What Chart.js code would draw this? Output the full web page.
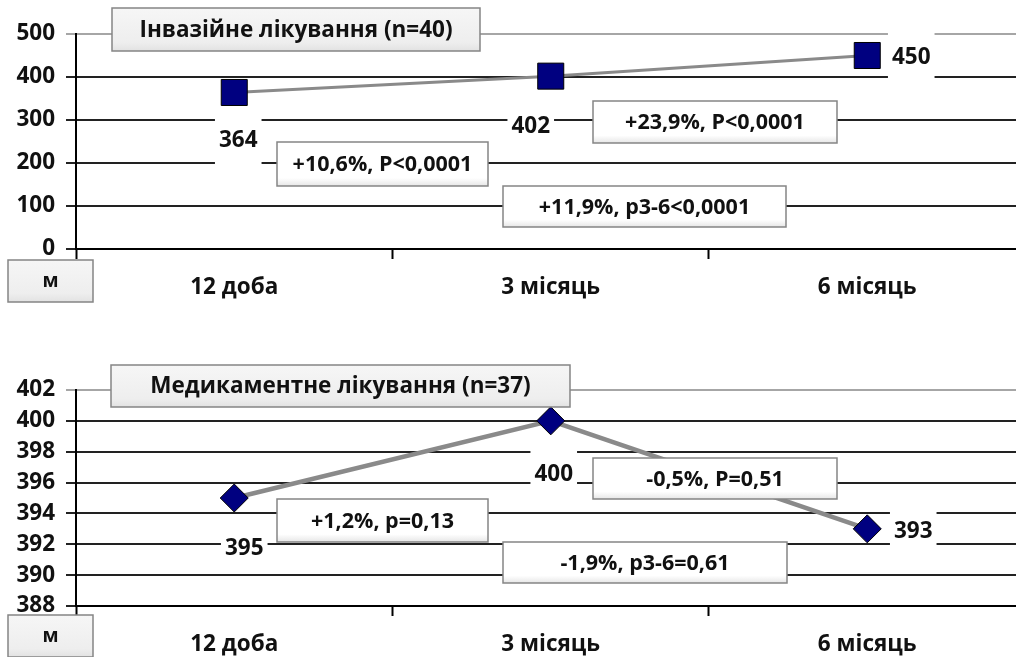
<!DOCTYPE html>
<html>
<head>
<meta charset="utf-8">
<script src="https://cdn.jsdelivr.net/npm/chart.js@4/dist/chart.umd.min.js"></script>
<style>
  html, body { margin: 0; padding: 0; background: #ffffff; overflow: hidden; }
  #wrap { position: relative; width: 1016px; height: 657px; }
  canvas { position: absolute; left: 0; display: block; }
  #invasive { top: 0; width: 1016px; height: 330px; }
  #medical { top: 356px; width: 1016px; height: 301px; }
</style>
</head>
<body>
<div id="wrap">
<canvas id="invasive" width="1016" height="330"></canvas>
<canvas id="medical" width="1016" height="301"></canvas>
</div>
<script>
// Distance walked (m) at 12 days, 3 months and 6 months
const categories = ['12 доба', '3 місяць', '6 місяць'];
const invasiveValues = [364, 402, 450];
const medicalValues = [395, 400, 393];
const invasiveTicks = [0, 100, 200, 300, 400, 500];
const medicalTicks = [388, 390, 392, 394, 396, 398, 400, 402];
const invasiveTitle = 'Інвазійне лікування (n=40)';
const medicalTitle = 'Медикаментне лікування (n=37)';
const invasiveNotes = ['+10,6%, P<0,0001', '+23,9%, P<0,0001', '+11,9%, p3-6<0,0001'];
const medicalNotes = ['+1,2%, p=0,13', '-0,5%, P=0,51', '-1,9%, p3-6=0,61'];
const unitLabel = 'м';

const FONT = '"Open Sans", "Noto Sans", sans-serif';
const TEXT = '#111111';

// Placement of the text boxes on each canvas
const invasiveLayout = {
  title: { x: 112, y: 8, w: 368, h: 43 },
  unit: { x: 8, y: 260, w: 85, h: 42 },
  notes: [
    { x: 277, y: 142, w: 211, h: 44 },
    { x: 593, y: 101, w: 244, h: 42 },
    { x: 503, y: 186, w: 283, h: 41 }
  ],
  // value label offsets from each marker
  labels: [
    { dx: 4, dy: 47 },
    { dx: -20, dy: 49 },
    { dx: 44, dy: 1 }
  ]
};
const medicalLayout = {
  title: { x: 111, y: 9, w: 459, h: 42 },
  unit: { x: 8, y: 259, w: 85, h: 42 },
  notes: [
    { x: 277, y: 143, w: 211, h: 43 },
    { x: 593, y: 102, w: 244, h: 41 },
    { x: 503, y: 186, w: 284, h: 41 }
  ],
  labels: [
    { dx: 10, dy: 50 },
    { dx: 3, dy: 53 },
    { dx: 46, dy: 2 }
  ]
};

function drawBox(ctx, b, text, shaded, fontSize) {
  ctx.save();
  const g = ctx.createLinearGradient(0, b.y, 0, b.y + b.h);
  if (shaded) {
    g.addColorStop(0, '#f6f6f6');
    g.addColorStop(0.8, '#eeeeee');
    g.addColorStop(1, '#e2e2e2');
  } else {
    g.addColorStop(0, '#ffffff');
    g.addColorStop(0.82, '#ffffff');
    g.addColorStop(1, '#e6e6e6');
  }
  ctx.fillStyle = g;
  ctx.fillRect(b.x, b.y, b.w, b.h);
  ctx.strokeStyle = '#858585';
  ctx.lineWidth = 1.5;
  ctx.strokeRect(b.x, b.y, b.w, b.h);
  ctx.fillStyle = TEXT;
  ctx.font = 'bold ' + fontSize + 'px ' + FONT;
  ctx.textAlign = 'center';
  ctx.textBaseline = 'middle';
  ctx.fillText(text, b.x + b.w / 2, b.y + b.h / 2 + 1);
  ctx.restore();
}

// Value labels with a white backing, then the caption boxes on top
const annotationPlugin = {
  id: 'panelAnnotations',
  afterDatasetsDraw(chart, args, opts) {
    const ctx = chart.ctx;
    const meta = chart.getDatasetMeta(0);
    const data = chart.data.datasets[0].data;
    ctx.save();
    ctx.font = 'bold 22.5px ' + FONT;
    ctx.textAlign = 'center';
    ctx.textBaseline = 'middle';
    meta.data.forEach((pt, i) => {
      const off = opts.layout.labels[i];
      const txt = String(data[i].y);
      const cx = pt.x + off.dx;
      const cy = pt.y + off.dy;
      const w = ctx.measureText(txt).width + 8;
      ctx.fillStyle = '#ffffff';
      ctx.fillRect(cx - w / 2, cy - 25, w, 50);
      ctx.fillStyle = TEXT;
      ctx.fillText(txt, cx, cy + 1);
    });
    ctx.restore();
  },
  afterDraw(chart, args, opts) {
    const ctx = chart.ctx;
    const L = opts.layout;
    drawBox(ctx, L.title, opts.title, true, 22.5);
    drawBox(ctx, L.unit, unitLabel, true, 19);
    opts.notes.forEach((t, i) => drawBox(ctx, L.notes[i], t, false, 21.5));
  }
};

function makePanel(id, values, ticks, pointStyle, radius, lineWidth, title, notes, layout, axisHeight) {
  const top = ticks[ticks.length - 1];
  return new Chart(document.getElementById(id), {
    type: 'line',
    data: {
      datasets: [{
        data: values.map((v, i) => ({ x: i, y: v })),
        borderColor: '#8a8a8a',
        borderWidth: lineWidth,
        pointStyle: pointStyle,
        pointRadius: radius,
        pointHoverRadius: radius,
        pointBackgroundColor: '#000080',
        pointBorderColor: '#000000',
        pointBorderWidth: 1,
        tension: 0,
        fill: false
      }]
    },
    options: {
      responsive: false,
      maintainAspectRatio: false,
      animation: false,
      devicePixelRatio: 1,
      layout: { autoPadding: false, padding: { left: 0, top: 34, right: 0, bottom: 0 } },
      plugins: {
        legend: { display: false },
        tooltip: { enabled: false },
        panelAnnotations: { layout: layout, title: title, notes: notes }
      },
      scales: {
        x: {
          type: 'linear',
          // the last period runs off the right edge of the plot
          min: -0.5,
          max: 2.47,
          afterBuildTicks: s => { s.ticks = categories.map((c, i) => ({ value: i })); },
          grid: {
            offset: true,
            drawOnChartArea: false,
            drawTicks: true,
            tickLength: 10,
            tickWidth: 2,
            tickColor: '#000000'
          },
          border: { display: true, color: '#000000', width: 2 },
          ticks: {
            color: TEXT,
            font: { family: FONT, size: 22.5, weight: 'bold' },
            padding: 15,
            maxRotation: 0,
            autoSkip: false,
            callback: v => categories[v]
          },
          afterFit: s => {
            s.height = axisHeight;
            s.paddingLeft = 0;
            s.paddingRight = 0;
          }
        },
        y: {
          min: ticks[0],
          max: top,
          afterBuildTicks: s => { s.ticks = ticks.map(v => ({ value: v })); },
          grid: {
            color: c => (c.tick && c.tick.value === top ? '#a6a6a6' : '#222222'),
            lineWidth: 2,
            tickLength: 10
          },
          border: { display: true, color: '#000000', width: 2 },
          ticks: {
            color: TEXT,
            font: { family: FONT, size: 22.5, weight: 'bold' },
            padding: 11
          },
          afterFit: s => {
            s.width = 76;
            s.paddingTop = 0;
            s.paddingBottom = 0;
          }
        }
      }
    },
    plugins: [annotationPlugin]
  });
}

makePanel('invasive', invasiveValues, invasiveTicks, 'rect', 18.4, 3,
  invasiveTitle, invasiveNotes, invasiveLayout, 81);
makePanel('medical', medicalValues, medicalTicks, 'rectRot', 14, 4.5,
  medicalTitle, medicalNotes, medicalLayout, 51);
</script>
</body>
</html>
